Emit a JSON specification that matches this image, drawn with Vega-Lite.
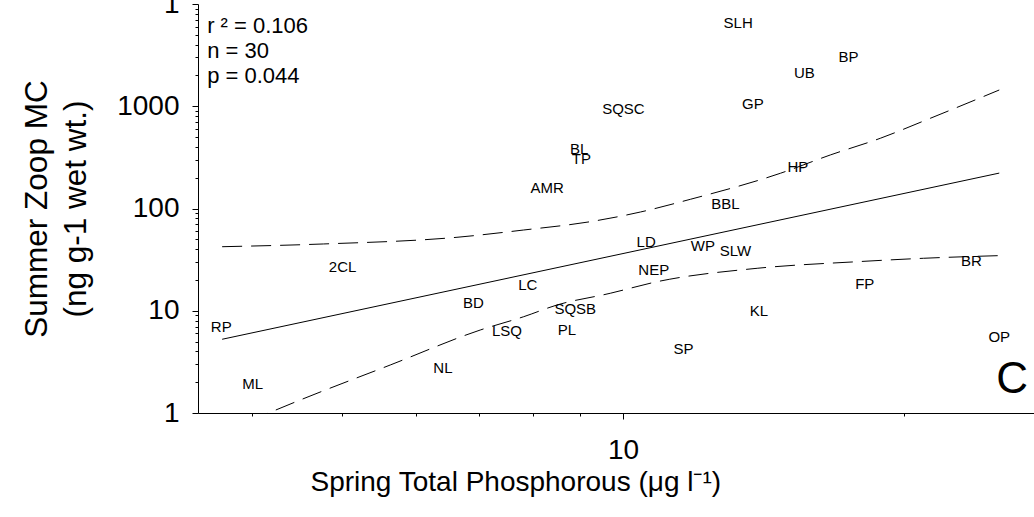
{
  "$schema": "https://vega.github.io/schema/vega-lite/v6.json",
  "width": 836,
  "height": 409,
  "autosize": {"type": "none"},
  "padding": {"left": 198, "top": 4, "right": 0, "bottom": 104},
  "background": "white",
  "config": {
    "view": {"stroke": null},
    "font": "Liberation Sans",
    "text": {"font": "Liberation Sans", "color": "black"}
  },
  "datasets": {
    "labels": [
      {"lab": "SLH", "x": 13.29, "y": 6474},
      {"lab": "BP", "x": 17.45, "y": 2999},
      {"lab": "UB", "x": 15.65, "y": 2138},
      {"lab": "GP", "x": 13.78, "y": 1052},
      {"lab": "SQSC", "x": 10.01, "y": 940},
      {"lab": "HP", "x": 15.40, "y": 254.6},
      {"lab": "BBL", "x": 12.88, "y": 110.7},
      {"lab": "BL", "x": 8.976, "y": 382},
      {"lab": "TP", "x": 9.022, "y": 308},
      {"lab": "AMR", "x": 8.293, "y": 160.4},
      {"lab": "2CL", "x": 5.003, "y": 26.96},
      {"lab": "LC", "x": 7.904, "y": 17.86},
      {"lab": "BD", "x": 6.909, "y": 12.04},
      {"lab": "SQSB", "x": 8.888, "y": 10.40},
      {"lab": "RP", "x": 3.707, "y": 6.86},
      {"lab": "LSQ", "x": 7.507, "y": 6.34},
      {"lab": "PL", "x": 8.704, "y": 6.41},
      {"lab": "NL", "x": 6.410, "y": 2.786},
      {"lab": "ML", "x": 4.007, "y": 1.921},
      {"lab": "LD", "x": 10.59, "y": 47.0},
      {"lab": "WP", "x": 12.18, "y": 43.46},
      {"lab": "SLW", "x": 13.20, "y": 38.4},
      {"lab": "NEP", "x": 10.79, "y": 25.0},
      {"lab": "BR", "x": 23.64, "y": 30.6},
      {"lab": "FP", "x": 18.17, "y": 18.27},
      {"lab": "KL", "x": 13.99, "y": 9.94},
      {"lab": "SP", "x": 11.61, "y": 4.23},
      {"lab": "OP", "x": 25.33, "y": 5.57}
    ],
    "fit": [
      {"x": 3.715, "y": 5.26},
      {"x": 25.33, "y": 222}
    ],
    "bands": [
      {"band": "upper", "x": 3.715, "y": 42.3},
      {"band": "upper", "x": 4.773, "y": 45.0},
      {"band": "upper", "x": 6.636, "y": 52.3},
      {"band": "upper", "x": 7.824, "y": 61.6},
      {"band": "upper", "x": 9.224, "y": 74.3},
      {"band": "upper", "x": 10.44, "y": 92.4},
      {"band": "upper", "x": 11.81, "y": 123},
      {"band": "upper", "x": 14.75, "y": 221},
      {"band": "upper", "x": 16.69, "y": 334},
      {"band": "upper", "x": 18.88, "y": 486},
      {"band": "upper", "x": 21.36, "y": 762},
      {"band": "upper", "x": 25.33, "y": 1442},
      {"band": "lower", "x": 3.715, "y": 0.652},
      {"band": "lower", "x": 4.166, "y": 1.0},
      {"band": "lower", "x": 4.524, "y": 1.361},
      {"band": "lower", "x": 5.627, "y": 2.947},
      {"band": "lower", "x": 7.028, "y": 6.48},
      {"band": "lower", "x": 7.824, "y": 8.745},
      {"band": "lower", "x": 8.494, "y": 11.38},
      {"band": "lower", "x": 9.69, "y": 14.82},
      {"band": "lower", "x": 10.88, "y": 19.24},
      {"band": "lower", "x": 13.93, "y": 26.02},
      {"band": "lower", "x": 17.83, "y": 30.18},
      {"band": "lower", "x": 21.01, "y": 32.6},
      {"band": "lower", "x": 25.33, "y": 34.6}
    ],
    "stats": [
      {"t": "r ² = 0.106", "x": 3.58, "y": 5169},
      {"t": "n = 30", "x": 3.58, "y": 2944},
      {"t": "p = 0.044", "x": 3.58, "y": 1677}
    ],
    "panel": [
      {"t": "C", "x": 26.15, "y": 1.558}
    ]
  },
  "encoding": {
    "x": {
      "field": "x",
      "type": "quantitative",
      "scale": {"type": "log", "domain": [3.5, 27.6], "nice": false},
      "axis": {
        "values": [4, 5, 6, 7, 8, 9, 10, 20],
        "labelExpr": "datum.value == 10 ? '10' : ''",
        "tickSize": {"condition": {"test": "datum.value == 10", "value": 6}, "value": 3},
        "grid": false,
        "domainColor": "black",
        "tickColor": "black",
        "labelColor": "black",
        "labelFont": "Liberation Sans",
        "labelFontSize": 28,
        "labelBaseline": "alphabetic",
        "labelPadding": 39,
        "labelFlush": false,
        "labelOverlap": false,
        "title": "Spring Total Phosphorous (μg l⁻¹)",
        "titleFont": "Liberation Sans",
        "titleFontSize": 28,
        "titleFontWeight": "normal",
        "titleColor": "black",
        "titleAlign": "left",
        "titleBaseline": "alphabetic",
        "titleX": 112,
        "titleY": 77
      }
    },
    "y": {
      "field": "y",
      "type": "quantitative",
      "scale": {"type": "log", "domain": [1, 10000], "nice": false},
      "axis": {
        "values": [1, 2, 3, 4, 5, 6, 7, 8, 9, 10, 20, 30, 40, 50, 60, 70, 80, 90, 100, 200, 300, 400, 500, 600, 700, 800, 900, 1000, 2000, 3000, 4000, 5000, 6000, 7000, 8000, 9000, 10000],
        "labelExpr": "datum.value == 1 ? '1' : datum.value == 10 ? '10' : datum.value == 100 ? '100' : datum.value == 1000 ? '1000' : datum.value == 10000 ? '1' : ''",
        "tickSize": {"condition": {"test": "indexof([1, 10, 100, 1000, 10000], datum.value) >= 0", "value": 6}, "value": 3},
        "grid": false,
        "domainColor": "black",
        "tickColor": "black",
        "labelColor": "black",
        "labelFont": "Liberation Sans",
        "labelFontSize": 28,
        "labelBaseline": "middle",
        "labelPadding": 13,
        "labelFlush": false,
        "labelOverlap": false,
        "title": ["Summer Zoop MC", "(ng g-1 wet wt.)"],
        "titleFont": "Liberation Sans",
        "titleFontSize": 31.5,
        "titleFontWeight": "normal",
        "titleColor": "black",
        "titleAngle": -90,
        "titleAlign": "center",
        "titleBaseline": "alphabetic",
        "titleLineHeight": 39,
        "titleX": -151.5,
        "titleY": 204.5
      }
    }
  },
  "layer": [
    {
      "mark": {"type": "rule", "color": "black", "strokeWidth": 1},
      "encoding": {
        "x": {"datum": 3.5, "type": "quantitative"},
        "x2": {"datum": 27.6},
        "y": {"datum": 10000, "type": "quantitative"}
      }
    },
    {
      "data": {"name": "fit"},
      "mark": {"type": "line", "color": "black", "strokeWidth": 1, "clip": true},
      "encoding": {}
    },
    {
      "data": {"name": "bands"},
      "mark": {"type": "line", "color": "black", "strokeWidth": 1, "strokeDash": [20, 9], "interpolate": "monotone", "clip": true},
      "encoding": {"detail": {"field": "band"}}
    },
    {
      "data": {"name": "labels"},
      "mark": {"type": "text", "font": "Liberation Sans", "fontSize": 15, "align": "center", "baseline": "middle", "color": "black"},
      "encoding": {"text": {"field": "lab"}}
    },
    {
      "data": {"name": "stats"},
      "mark": {"type": "text", "font": "Liberation Sans", "fontSize": 22, "align": "left", "baseline": "alphabetic", "color": "black"},
      "encoding": {"text": {"field": "t"}}
    },
    {
      "data": {"name": "panel"},
      "mark": {"type": "text", "font": "Liberation Sans", "fontSize": 44, "align": "center", "baseline": "alphabetic", "color": "black"},
      "encoding": {"text": {"field": "t"}}
    }
  ]
}
